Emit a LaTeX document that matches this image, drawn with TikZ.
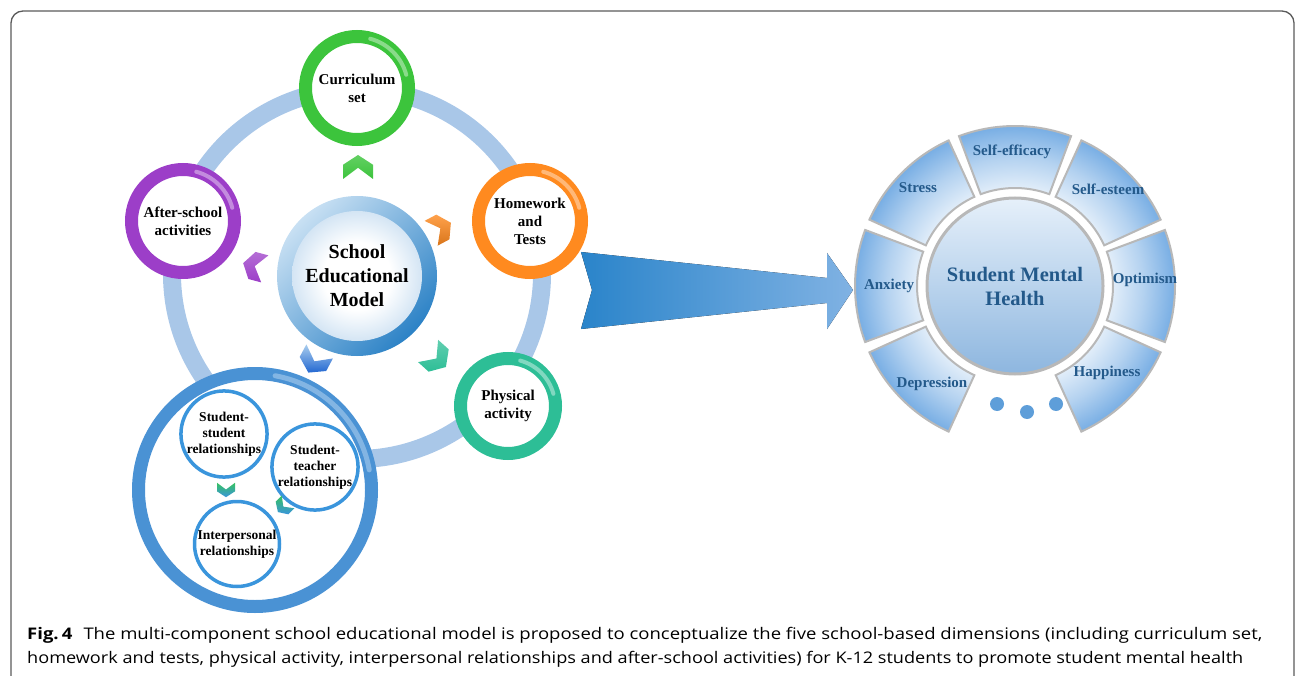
\documentclass[tikz,border=0pt]{standalone}
\usepackage{fontspec}
\usepackage{graphicx}
\setmainfont{Liberation Serif}
\newfontfamily\capfont{Open Sans}
\definecolor{trackblue}{HTML}{A9C7E8}
\definecolor{cgreen}{HTML}{3CC43C}
\definecolor{cpurple}{HTML}{9C3EC8}
\definecolor{corange}{HTML}{FF8A1F}
\definecolor{cteal}{HTML}{2DBE96}
\definecolor{semdark}{HTML}{2C82C6}
\definecolor{semlight}{HTML}{C8E0F3}
\definecolor{disk}{HTML}{D4E5F4}
\definecolor{grpblue}{HTML}{4A92D4}
\definecolor{grpblueL}{HTML}{A9CDEE}
\definecolor{smallblue}{HTML}{3A95DC}
\definecolor{segblue}{HTML}{78AEE4}
\definecolor{segmid}{HTML}{B4D2F0}
\definecolor{seglight}{HTML}{E4EFFA}
\definecolor{seggray}{HTML}{B8B8B8}
\definecolor{ctop}{HTML}{E6F0FA}
\definecolor{cbot}{HTML}{8DB6DF}
\definecolor{labblue}{HTML}{23598A}
\definecolor{dotblue}{HTML}{5E9ED9}
\definecolor{arrdark}{HTML}{2A84CA}
\definecolor{arrmid}{HTML}{3A93D6}
\definecolor{arrlight}{HTML}{80B2E3}
\definecolor{bordergray}{HTML}{5A5A5A}
\pgfdeclareradialshading{diskshade}{\pgfpoint{0bp}{0bp}}{color(0bp)=(white); color(13bp)=(white); color(25bp)=(disk); color(50bp)=(disk)}
\pgfdeclareradialshading{ringshade}{\pgfpoint{0bp}{0bp}}{color(0bp)=(seglight); color(15bp)=(seglight); color(20bp)=(segmid); color(25bp)=(segblue); color(50bp)=(segblue)}
\tikzset{
  colring/.style={circle, draw=#1, line width=13, minimum size=103, inner sep=0pt, fill=white, align=center, font=\fontsize{15}{18}\selectfont\bfseries},
  hl/.style={white, opacity=.4, line width=4, line cap=round},
  smallring/.style={circle, draw=smallblue, line width=3.5, minimum size=85, inner sep=0pt, fill=white, align=center, font=\fontsize{13.5}{16}\selectfont\bfseries},
  seglabel/.style={text=labblue, font=\fontsize{15}{18}\selectfont\bfseries, inner sep=0pt},
  segline/.style={draw=seggray, line width=2},
  dotnode/.style={circle, fill=dotblue, minimum size=14, inner sep=0pt},
  pics/chev/.style 2 args={code={
    \shade[top color=#2, bottom color=#1] (0.8,0)--(0.15,1)--(-0.8,1)--(-0.05,0)--(-0.8,-1)--(0.15,-1)--cycle;}}
}
\newcommand\ringhl[2]{\draw[hl] ([shift={(-15:#2)}]#1.center) arc[start angle=-15, end angle=-75, radius=#2];}
\begin{document}
\begin{tikzpicture}[x=1pt,y=-1pt]
\useasboundingbox (0,0) rectangle (1295,676);
% track ring
\draw[trackblue, line width=18] (357,274) circle[radius=185];
% satellite circles
\node[colring=cgreen] (cur) at (357,88) {Curriculum\\set};
\node[colring=cpurple] (aft) at (183,221) {After-school\\activities};
\node[colring=corange] (hom) at (530,221) {Homework\\and\\Tests};
\node[colring=cteal, minimum size=95] (phy) at (508,406) {Physical\\activity};
\ringhl{cur}{51}
\ringhl{aft}{51}
\ringhl{hom}{51}
\ringhl{phy}{47}
% center circle
\node[circle, minimum size=160, inner sep=0pt, top color=semlight, bottom color=semdark, shading angle=45] (semring) at (357,276) {};
\node[circle, minimum size=130, inner sep=0pt, shading=diskshade, align=center, font=\fontsize{20}{24}\selectfont\bfseries] (sem) at (357,276) {School\\Educational\\Model};
% bottom group
\node[circle, draw=grpblue, line width=13, minimum size=233, inner sep=0pt, fill=white] (grp) at (255,490) {};
\draw[grpblueL, opacity=.6, line width=5, line cap=round] ([shift={(-10:116)}]grp.center) arc[start angle=-10, end angle=-80, radius=116];
\node[smallring] (ss) at (224,434) {Student-\\student\\relationships};
\node[smallring] (st) at (315,467) {Student-\\teacher\\relationships};
\node[smallring] (ip) at (237,544) {Interpersonal\\relationships};
% chevrons
\pic[rotate=90, scale=15] at (358,167) {chev={cgreen}{cgreen!80!white}};
\pic[rotate=28, scale=14] at (441,228) {chev={corange!85!black}{corange!80!white}};
\pic[rotate=165, scale=14] at (254,266) {chev={cpurple}{cpurple!75!white}};
\pic[rotate=-118, scale=15] at (314,362) {chev={semdark!80!blue}{grpblueL}};
\pic[rotate=-42, scale=15] at (437,359) {chev={cteal}{cteal!75!white}};
\pic[rotate=-90, scale=9] at (226,490) {chev={smallblue}{cgreen!60!cteal}};
\pic[rotate=-135, scale=9] at (283,507) {chev={smallblue}{cgreen!60!cteal}};
% big arrow
\coordinate (arrtail) at (592,290);
\coordinate (arrtip) at (853,290);
\fill[left color=arrdark, middle color=arrmid, right color=arrlight] (581,252) -- (827,278) -- (827,253) -- (arrtip) -- (827,329) -- (827,303) -- (581,329) -- (arrtail) -- cycle;
% right ring
\begin{scope}[shift={(1015,286)}, yscale=-1]
\foreach \a in {90,45,0,-45,-135,180,135} {
  \begin{scope}
    \clip (\a-20.5:98) -- (\a-20.5:160) arc[start angle=\a-20.5, end angle=\a+20.5, radius=160] -- (\a+20.5:98) arc[start angle=\a+20.5, end angle=\a-20.5, radius=98] -- cycle;
    \shade[shading=ringshade] (0,0) circle[radius=160];
  \end{scope}
  \draw[segline] (\a-20.5:98) -- (\a-20.5:160) arc[start angle=\a-20.5, end angle=\a+20.5, radius=160] -- (\a+20.5:98) arc[start angle=\a+20.5, end angle=\a-20.5, radius=98] -- cycle;
}
\end{scope}
\node[circle, minimum size=176, inner sep=0pt, top color=ctop, bottom color=cbot, draw=seggray, line width=3, align=center, text=labblue, font=\fontsize{20.5}{24}\selectfont\bfseries] (smh) at (1015,286) {Student Mental\\Health};
\node[seglabel] (seff) at (1012,152) {Self-efficacy};
\node[seglabel] (sest) at (1108,189) {Self-esteem};
\node[seglabel] (opt) at (1145,280) {Optimism};
\node[seglabel] (hap) at (1107,373) {Happiness};
\node[seglabel] (dep) at (932,384) {Depression};
\node[seglabel] (anx) at (889,286) {Anxiety};
\node[seglabel] (str) at (918,188) {Stress};
\node[dotnode] (d1) at (997,404) {};
\node[dotnode] (d2) at (1027,412) {};
\node[dotnode] (d3) at (1056,404) {};
% caption
\node[anchor=base west, inner sep=0pt] (cap1) at (27,639) {\resizebox{1235pt}{\height}{\capfont\fontsize{16}{19}\selectfont\textbf{Fig.\,4}\hspace{0.6em}The multi-component school educational model is proposed to conceptualize the five school-based dimensions (including curriculum set,}};
\node[anchor=base west, inner sep=0pt] (cap2) at (27,663) {\resizebox{1216pt}{\height}{\capfont\fontsize{16}{19}\selectfont homework and tests, physical activity, interpersonal relationships and after-school activities) for K-12 students to promote student mental health}};
% border
\draw[bordergray, line width=1.3, rounded corners=12] (11,676) -- (11,11) -- (1294,11) -- (1294,676);
\end{tikzpicture}
\end{document}
